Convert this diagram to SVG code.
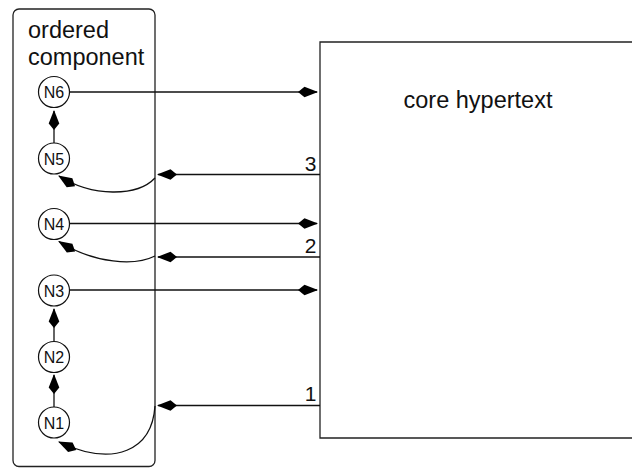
<svg xmlns="http://www.w3.org/2000/svg" width="632" height="469" viewBox="0 0 632 469">
  <style>
    .frame { fill: #fff; stroke: #222; stroke-width: 1.3; }
    .node circle { fill: #fff; stroke: #111; stroke-width: 1.2; }
    .node text { font-family: "Liberation Sans", Arial, sans-serif; font-size: 16px; text-anchor: middle; fill: #111; }
    .title { font-family: "Liberation Sans", Arial, sans-serif; font-size: 23.5px; fill: #111; }
    .num { font-family: "Liberation Sans", Arial, sans-serif; font-size: 21px; text-anchor: end; fill: #111; }
    .edge { fill: none; stroke: #111; stroke-width: 1.3; marker-end: url(#kite); }
  </style>
  <defs>
    <marker id="kite" viewBox="-22 -7 24 14" refX="0" refY="0" markerWidth="24" markerHeight="14" markerUnits="userSpaceOnUse" orient="auto">
      <path d="M1,0 L-12.5,-5.3 L-19,0 L-12.5,5.3 Z" fill="#000"/>
    </marker>
  </defs>

  <!-- core hypertext area (open to the right) -->
  <g id="core">
    <path class="frame" d="M645,42 H320 V438 H645"/>
    <text class="title" x="478" y="108" text-anchor="middle">core hypertext</text>
    <text class="num" x="316.5" y="170.5">3</text>
    <text class="num" x="316.5" y="252.5">2</text>
    <text class="num" x="316.5" y="401">1</text>
  </g>

  <!-- ordered component container -->
  <g id="component">
    <rect class="frame" x="13" y="9" width="142" height="457.5" rx="6" ry="6"/>
    <text class="title" x="28" y="38">ordered</text>
    <text class="title" x="28" y="65">component</text>
  </g>

  <!-- connectors -->
  <g id="connectors">
    <!-- outgoing links to the core -->
    <path class="edge" d="M70,92 H317"/>
    <path class="edge" d="M70,223.5 H317"/>
    <path class="edge" d="M70,290 H317"/>
    <!-- incoming links from the core -->
    <path class="edge" d="M320,174.5 H158"/>
    <path class="edge" d="M320,257 H158"/>
    <path class="edge" d="M320,405.5 H158"/>
    <!-- order inside the component -->
    <path class="edge" d="M54,143 V111"/>
    <path class="edge" d="M54,341 V309"/>
    <path class="edge" d="M54,407 V375"/>
    <!-- re-entry curves -->
    <path class="edge" d="M155,178 C137,197 92,197 59,176"/>
    <path class="edge" d="M155,256 C135,266 95,264 59,241.5"/>
    <path class="edge" d="M155,406 C152,450 115,468 59,442"/>
  </g>

  <g id="N6" class="node"><circle cx="54" cy="92" r="15.5"/><text x="54" y="98">N6</text></g>
  <g id="N5" class="node"><circle cx="54" cy="158.5" r="15.5"/><text x="54" y="164.5">N5</text></g>
  <g id="N4" class="node"><circle cx="54" cy="224" r="15.5"/><text x="54" y="230">N4</text></g>
  <g id="N3" class="node"><circle cx="54" cy="290.5" r="15.5"/><text x="54" y="296.5">N3</text></g>
  <g id="N2" class="node"><circle cx="54" cy="357" r="15.5"/><text x="54" y="363">N2</text></g>
  <g id="N1" class="node"><circle cx="54" cy="422.5" r="15.5"/><text x="54" y="428.5">N1</text></g>
</svg>
